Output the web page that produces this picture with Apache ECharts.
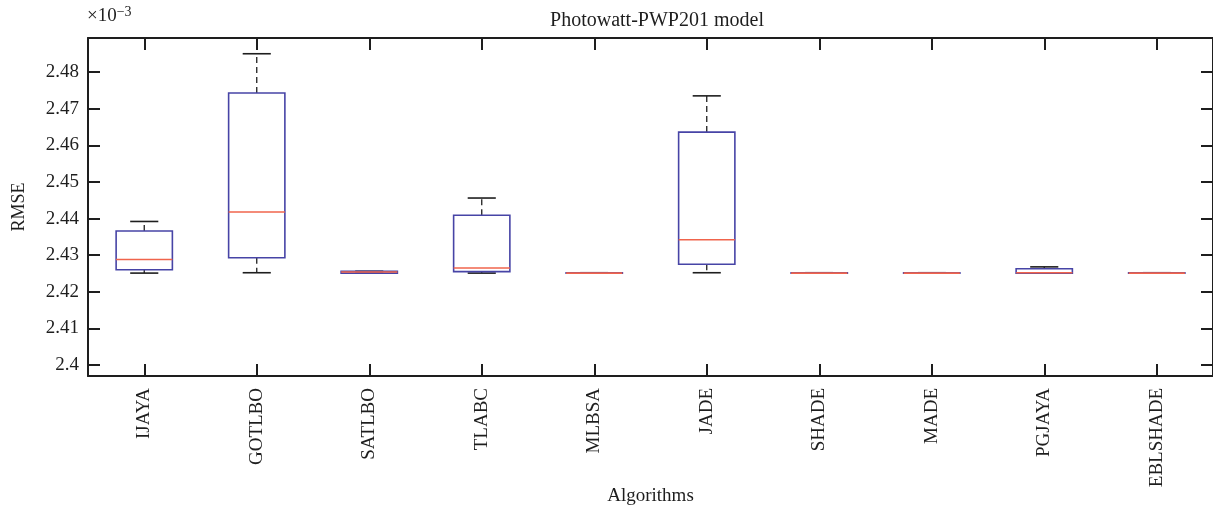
<!DOCTYPE html>
<html>
<head>
<meta charset="utf-8">
<title>Photowatt-PWP201 model</title>
<script src="https://cdn.jsdelivr.net/npm/echarts@6/dist/echarts.min.js"></script>
<style>
  html, body { margin: 0; padding: 0; background: #fff; }
  #chart { width: 1213px; height: 512px; }
</style>
</head>
<body>
<div id="chart"></div>
<script>
// RMSE statistics per algorithm, in units of 1e-3
const categories = ['IJAYA', 'GOTLBO', 'SATLBO', 'TLABC', 'MLBSA', 'JADE', 'SHADE', 'MADE', 'PGJAYA', 'EBLSHADE'];
const lowerWhisker = [2.4251, 2.4252, 2.4251, 2.4251, 2.4251, 2.4252, 2.4251, 2.4251, 2.4251, 2.4251];
const q1           = [2.4260, 2.4293, 2.4251, 2.4255, 2.4251, 2.4275, 2.4251, 2.4251, 2.4251, 2.4251];
const medians      = [2.4288, 2.4418, 2.4254, 2.4265, 2.4251, 2.4342, 2.4251, 2.4251, 2.4252, 2.4251];
const q3           = [2.4366, 2.4743, 2.4256, 2.4409, 2.4252, 2.4636, 2.4252, 2.4252, 2.4263, 2.4252];
const upperWhisker = [2.4392, 2.4850, 2.4256, 2.4456, 2.4252, 2.4735, 2.4252, 2.4252, 2.4268, 2.4252];
const yTicks = [2.4, 2.41, 2.42, 2.43, 2.44, 2.45, 2.46, 2.47, 2.48];

const FONT = '"Liberation Serif", "DejaVu Serif", serif';
const INK = '#1e1e1e';
const BOX = '#4744a6';
const MED = '#f0644c';

const boxData = categories.map((c, i) => [i, lowerWhisker[i], q1[i], medians[i], q3[i], upperWhisker[i]]);

// one box-and-whisker glyph per category: dashed whiskers, solid caps, box, median
function renderBox(params, api) {
  const idx = api.value(0);
  const band = api.size([1, 0])[0];
  const boxW = band * 0.5;
  const capW = band * 0.25;
  const cx = api.coord([idx, 0])[0];
  const yLo = api.coord([idx, api.value(1)])[1];
  const yQ1 = api.coord([idx, api.value(2)])[1];
  const yMd = api.coord([idx, api.value(3)])[1];
  const yQ3 = api.coord([idx, api.value(4)])[1];
  const yHi = api.coord([idx, api.value(5)])[1];
  const whisker = { stroke: INK, lineWidth: 1.3, lineDash: [6, 4] };
  const cap = { stroke: INK, lineWidth: 1.6 };
  return {
    type: 'group',
    children: [
      { type: 'line', shape: { x1: cx, y1: yQ3, x2: cx, y2: yHi }, style: whisker },
      { type: 'line', shape: { x1: cx, y1: yQ1, x2: cx, y2: yLo }, style: whisker },
      { type: 'line', shape: { x1: cx - capW / 2, y1: yHi, x2: cx + capW / 2, y2: yHi }, style: cap },
      { type: 'line', shape: { x1: cx - capW / 2, y1: yLo, x2: cx + capW / 2, y2: yLo }, style: cap },
      { type: 'rect', shape: { x: cx - boxW / 2, y: yQ3, width: boxW, height: Math.max(yQ1 - yQ3, 0.5) },
        style: { fill: null, stroke: BOX, lineWidth: 1.6 } },
      { type: 'line', shape: { x1: cx - boxW / 2, y1: yMd, x2: cx + boxW / 2, y2: yMd },
        style: { stroke: MED, lineWidth: 1.6 } }
    ]
  };
}

const yMin = 2.397, yMax = 2.4893;
const axisLine = { show: true, lineStyle: { color: INK, width: 2 } };
const tickStyle = { color: INK, width: 2 };

const chart = echarts.init(document.getElementById('chart'), null, { renderer: 'canvas' });
chart.setOption({
  animation: false,
  backgroundColor: '#fff',
  title: {
    text: 'Photowatt-PWP201 model',
    left: 652, top: 6, textAlign: 'center',
    textStyle: { fontFamily: FONT, fontSize: 20, fontWeight: 'normal', color: INK }
  },
  graphic: [{
    type: 'text', left: 87, top: 5,
    style: {
      text: '×10{s|−3}',
      rich: { s: { fontSize: 14, fontFamily: FONT, fill: INK, verticalAlign: 'top', padding: [0, 0, 9, 0] } },
      font: '19px ' + FONT, fill: INK
    }
  }],
  grid: { left: 88, right: 0, top: 38, bottom: 136, containLabel: false, outerBoundsMode: 'none' },
  xAxis: [{
    type: 'category', data: categories, position: 'bottom',
    boundaryGap: true,
    axisLine: axisLine,
    axisTick: { show: true, inside: true, length: 12, alignWithLabel: true, lineStyle: tickStyle },
    axisLabel: { rotate: 90, margin: 12, fontFamily: FONT, fontSize: 19, color: INK, interval: 0 },
    name: 'Algorithms', nameLocation: 'middle', nameGap: 111, nameMoveOverlap: false,
    nameTextStyle: { fontFamily: FONT, fontSize: 19, color: INK },
    splitLine: { show: false }
  }, {
    type: 'category', data: categories, position: 'top',
    boundaryGap: true,
    axisLine: axisLine,
    axisTick: { show: true, inside: true, length: 12, alignWithLabel: true, lineStyle: tickStyle },
    axisLabel: { show: false },
    splitLine: { show: false }
  }],
  yAxis: [{
    type: 'value', min: yMin, max: yMax, position: 'left',
    axisLine: axisLine,
    axisTick: { show: true, inside: true, length: 12, customValues: yTicks, lineStyle: tickStyle },
    axisLabel: {
      customValues: yTicks, margin: 9, fontFamily: FONT, fontSize: 19, color: INK,
      formatter: v => String(parseFloat(v.toFixed(2)))
    },
    splitLine: { show: false },
    name: 'RMSE', nameLocation: 'middle', nameGap: 60, nameMoveOverlap: false, nameRotate: 90,
    nameTextStyle: { fontFamily: FONT, fontSize: 18, color: INK }
  }, {
    type: 'value', min: yMin, max: yMax, position: 'right',
    axisLine: axisLine,
    axisTick: { show: true, inside: true, length: 12, customValues: yTicks, lineStyle: tickStyle },
    axisLabel: { show: false },
    splitLine: { show: false }
  }],
  series: [{
    type: 'custom',
    xAxisIndex: 0, yAxisIndex: 0,
    renderItem: renderBox,
    encode: { x: 0, y: [1, 2, 3, 4, 5] },
    data: boxData,
    clip: false
  }]
});
</script>
</body>
</html>
